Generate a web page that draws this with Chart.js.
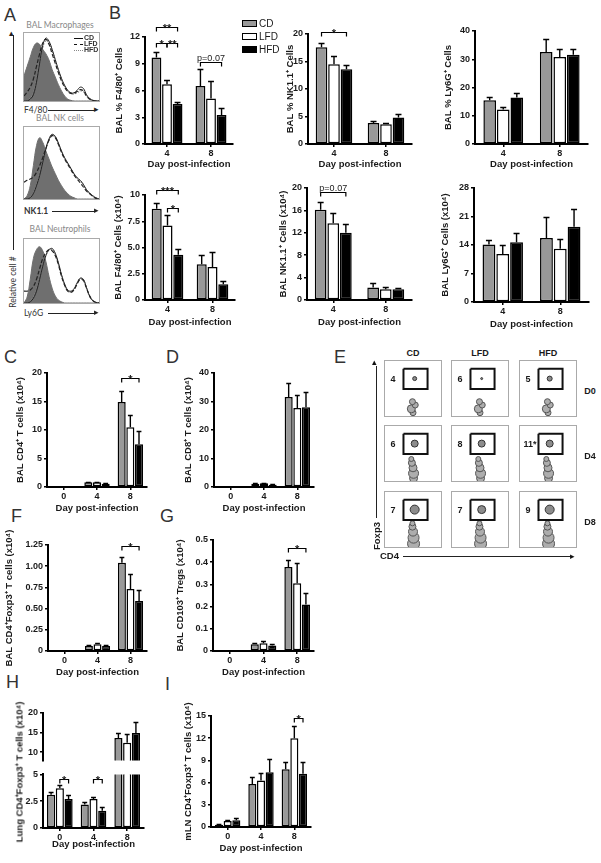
<!DOCTYPE html>
<html>
<head>
<meta charset="utf-8">
<script src="https://cdn.jsdelivr.net/npm/chart.js@4.4.0/dist/chart.umd.min.js"></script>
<style>
  body { margin: 0; width: 601px; height: 863px; position: relative; overflow: hidden; background: #fff;
         font-family: 'Liberation Sans', Arial, sans-serif; color: #1a1a1a; }
  canvas { position: absolute; }
  .t { position: absolute; white-space: nowrap; }
  .letter { font-size: 18px; color: #333; }
  .rot { transform: translate(-50%, -50%) rotate(-90deg); }
  .ctr { transform: translate(-50%, -50%); }
  .hbox { position: absolute; border: 1px solid #aaa; }
  .hbox canvas { position: static; display: block; }
  .flow { position: absolute; border: 1px solid #aaa; width: 56px; height: 55px; }
  .flow canvas { position: static; display: block; }
  .line { position: absolute; background: #222; }
  .sw { position: absolute; width: 13px; height: 5px; border: 1.5px solid #000; }
</style>
</head>
<body>
<script>
const groups = ['CD', 'LFD', 'HFD'];
const fills = ['#999999', '#ffffff', '#000000'];
const days48 = ['4', '8'];
const days048 = ['0', '4', '8'];

// rows: CD, LFD, HFD ; columns: days
const f480Pct = [[9.7, 6.5], [6.7, 5.1], [4.5, 3.25]];
const f480PctErr = [[0.6, 1.9], [0.5, 2.0], [0.2, 0.75]];
const nkPct = [[17.6, 3.8], [14.5, 3.6], [13.6, 4.8]];
const nkPctErr = [[0.7, 0.4], [1.5, 0.3], [0.8, 0.6]];
const ly6gPct = [[15.5, 32.6], [12.2, 30.8], [16.5, 31.6]];
const ly6gPctErr = [[1.2, 4.7], [1.0, 3.0], [1.4, 2.2]];

const f480Num = [[8.7, 3.4], [7.1, 3.15], [4.3, 1.5]];
const f480NumErr = [[0.5, 0.9], [1.0, 1.45], [0.6, 0.3]];
const nkNum = [[16.1, 2.25], [13.7, 1.9], [12.0, 1.9]];
const nkNumErr = [[1.4, 0.7], [1.8, 0.35], [1.6, 0.3]];
const ly6gNum = [[14.1, 15.7], [11.8, 13.1], [14.7, 18.5]];
const ly6gNumErr = [[1.2, 5.1], [2.3, 2.4], [2.2, 4.4]];

const cd4 = [[0.15, 0.85, 14.9], [0.05, 0.85, 10.5], [0.05, 0.55, 7.5]];
const cd4Err = [[0, 0.1, 1.9], [0, 0.1, 2.1], [0, 0.1, 2.3]];
const cd8 = [[0.05, 1.1, 31.6], [0.05, 1.3, 27.7], [0.05, 0.8, 28.0]];
const cd8Err = [[0, 0.2, 5.0], [0, 0.2, 4.6], [0, 0.1, 5.3]];
const treg = [[0.01, 0.06, 1.04], [0.01, 0.08, 0.73], [0.005, 0.06, 0.59]];
const tregErr = [[0, 0.01, 0.07], [0, 0.01, 0.18], [0, 0.01, 0.13]];
const cd103 = [[0.005, 0.03, 0.378], [0.005, 0.035, 0.305], [0.005, 0.025, 0.21]];
const cd103Err = [[0, 0.005, 0.03], [0, 0.008, 0.09], [0, 0.005, 0.05]];
const lungTreg = [[3.1, 2.2, 13.6], [3.7, 2.7, 12.4], [2.7, 1.6, 14.9]];
const lungTregErr = [[0.3, 0.2, 1.3], [0.3, 0.2, 2.2], [0.4, 0.4, 2.7]];
const mlnTreg = [[0.3, 5.8, 7.8], [0.8, 6.3, 12.0], [0.9, 7.4, 7.2]];
const mlnTregErr = [[0.05, 1.0, 1.0], [0.2, 1.0, 1.6], [0.3, 1.8, 1.6]];

// panel A histograms (relative cell #, 25 bins)
const macIso = [40, 55, 70, 85, 92, 90, 82, 75, 65, 50, 38, 26, 16, 8, 3, 1, 0, 0, 0, 0, 0, 0, 0, 0, 0];
const macCD  = [0, 0, 3, 10, 30, 60, 88, 100, 95, 82, 66, 50, 36, 25, 17, 13, 13, 17, 22, 20, 10, 4, 1, 0, 0];
const macLFD = [8, 14, 22, 35, 55, 75, 92, 98, 90, 75, 60, 45, 32, 22, 15, 12, 12, 15, 18, 16, 8, 3, 1, 0, 0];
const macHFD = [0, 0, 4, 12, 32, 62, 85, 96, 92, 80, 64, 48, 34, 23, 16, 12, 11, 13, 16, 15, 8, 3, 1, 0, 0];
const nkIso  = [0, 5, 20, 50, 80, 92, 85, 72, 60, 48, 38, 28, 20, 13, 8, 4, 2, 0, 0, 0, 0, 0, 0, 0, 0];
const nkCD   = [0, 0, 2, 8, 20, 35, 55, 75, 90, 97, 94, 84, 72, 62, 54, 46, 38, 32, 28, 22, 14, 9, 5, 2, 0];
const nkLFD  = [25, 28, 30, 33, 40, 50, 62, 76, 88, 95, 92, 82, 70, 60, 52, 44, 36, 30, 24, 18, 12, 8, 4, 1, 0];
const nkHFD  = [0, 0, 3, 9, 22, 37, 57, 76, 89, 96, 93, 83, 71, 61, 53, 45, 37, 31, 27, 21, 13, 8, 4, 1, 0];
const neuIso = [0, 10, 40, 75, 90, 95, 88, 70, 45, 25, 12, 5, 2, 0, 0, 0, 0, 0, 0, 0, 0, 0, 0, 0, 0];
const neuCD  = [0, 0, 2, 8, 20, 40, 62, 80, 90, 92, 84, 68, 48, 32, 22, 20, 24, 34, 42, 40, 26, 12, 4, 1, 0];
const neuLFD = [20, 20, 22, 28, 40, 58, 75, 85, 90, 88, 80, 65, 45, 30, 20, 18, 22, 32, 40, 38, 25, 12, 4, 1, 0];
const neuHFD = [0, 0, 3, 10, 22, 42, 63, 80, 89, 90, 82, 66, 47, 31, 21, 19, 23, 33, 41, 39, 25, 11, 4, 1, 0];

// panel E: gate frequencies (rows D0, D4, D8; columns CD, LFD, HFD)
const flowRows = ['D0', 'D4', 'D8'];
const flowPct = [[4, 6, 5], [6, 8, 11], [7, 7, 9]];
const flowStar = [[false, false, false], [false, false, true], [false, false, false]];
const gateX = [33, 76];
const gateY = [49, 86];
const gateBlobR = [[2, 1, 2.5], [3.5, 3.5, 3.5], [4.5, 4, 4.5]];
const bodyD0 = [{x: 50, y: 6, r: 3}, {x: 47, y: 13, r: 4}, {x: 54, y: 20, r: 3}, {x: 49, y: 26, r: 3}];
const bodyD4 = [{x: 51, y: 5, r: 4}, {x: 51, y: 14, r: 5}, {x: 50, y: 24, r: 4}, {x: 48, y: 33, r: 3.5}, {x: 47, y: 40, r: 2.5}];
const bodyD8 = [{x: 51, y: 6, r: 6}, {x: 51, y: 17, r: 5.5}, {x: 50, y: 28, r: 4.5}, {x: 49, y: 37, r: 3.5}, {x: 49, y: 43, r: 2.5}];
const flowBodies = [bodyD0, bodyD4, bodyD8];

Chart.defaults.font.family = "'Liberation Sans', Arial, sans-serif";
Chart.defaults.color = '#1a1a1a';
Chart.defaults.animation = false;

const tickFont = { size: 9, weight: 'bold' };

function txt(x, y, s, css, cls) {
  const d = document.createElement('div');
  d.className = 't ' + (cls || '');
  d.textContent = s;
  d.style.left = x + 'px';
  d.style.top = y + 'px';
  if (css) d.style.cssText += css;
  document.body.appendChild(d);
  return d;
}
function line(x, y, w, h) {
  const d = document.createElement('div');
  d.className = 'line';
  d.style.cssText += `left:${x}px;top:${y}px;width:${w}px;height:${h}px`;
  document.body.appendChild(d);
}

// upward error bars
const errorBars = {
  id: 'errorBars',
  afterDatasetsDraw(chart) {
    const { ctx, chartArea: a, scales: { y } } = chart;
    ctx.save();
    ctx.beginPath();
    ctx.rect(a.left, a.top - 4, a.right - a.left, a.bottom - a.top + 4);
    ctx.clip();
    ctx.strokeStyle = '#000';
    ctx.lineWidth = 1.4;
    chart.data.datasets.forEach((ds, i) => {
      chart.getDatasetMeta(i).data.forEach((bar, j) => {
        const e = ds.errs[j];
        const v = ds.data[j];
        if (!e || v + e < y.min) return;
        const y0 = y.getPixelForValue(Math.max(v, y.min));
        const y1 = Math.round(y.getPixelForValue(v + e)) + 0.5;
        const cap = Math.min(bar.width * 0.3, 3);
        ctx.beginPath();
        ctx.moveTo(bar.x, y0); ctx.lineTo(bar.x, y1);
        ctx.moveTo(bar.x - cap, y1); ctx.lineTo(bar.x + cap, y1);
        ctx.stroke();
      });
    });
    ctx.restore();
  }
};

// significance brackets
const brackets = {
  id: 'brackets',
  afterDraw(chart, args, opts) {
    const items = opts.items || [];
    const { ctx, scales: { y } } = chart;
    items.forEach(s => {
      const xa = chart.getDatasetMeta(s.a).data[s.cat].x;
      const xb = chart.getDatasetMeta(s.b).data[s.cat].x;
      const yy = Math.round(y.getPixelForValue(s.v)) + 0.5;
      ctx.save();
      ctx.strokeStyle = '#000';
      ctx.lineWidth = 1.2;
      ctx.beginPath();
      ctx.moveTo(xa, yy + 4); ctx.lineTo(xa, yy); ctx.lineTo(xb, yy); ctx.lineTo(xb, yy + 4);
      ctx.stroke();
      ctx.fillStyle = '#1a1a1a';
      ctx.textAlign = 'center';
      if (s.text[0] === 'p') {
        ctx.font = "9px 'Liberation Sans', Arial";
        ctx.fillText(s.text, (xa + xb) / 2, yy - 2);
      } else {
        ctx.font = "bold 11px 'Liberation Sans', Arial";
        ctx.fillText(s.text, (xa + xb) / 2, yy + 4);
      }
      ctx.restore();
    });
  }
};

function barPanel(o) {
  const padTop = o.padTop ?? 26, padRight = 4;
  const xH = o.hideX ? 0 : (o.xH ?? 27);
  const left = o.titleX - 6;
  const w = o.right - left + padRight;
  const h = padTop + (o.bottom - o.top) + xH;
  const cv = document.createElement('canvas');
  cv.width = w; cv.height = h;
  cv.style.left = left + 'px';
  cv.style.top = (o.top - padTop) + 'px';
  document.body.appendChild(cv);
  const three = o.labels.length === 3;
  new Chart(cv, {
    type: 'bar',
    data: {
      labels: o.labels,
      datasets: groups.map((g, i) => ({
        label: g,
        data: o.means[i],
        errs: o.errs[i],
        backgroundColor: fills[i],
        borderColor: '#000',
        borderWidth: 1.5,
        borderSkipped: false,
        categoryPercentage: three ? 0.78 : 0.72,
        barPercentage: 0.93
      }))
    },
    options: {
      responsive: false,
      maintainAspectRatio: false,
      animation: false,
      events: [],
      layout: { padding: { top: padTop, right: padRight, left: 0, bottom: 0 } },
      plugins: { legend: { display: false }, tooltip: { enabled: false }, brackets: { items: o.sig || [] } },
      scales: {
        x: {
          display: !o.hideX,
          afterFit: s => { s.height = xH; },
          ticks: { font: tickFont, padding: 1, color: '#1a1a1a' },
          grid: { drawOnChartArea: false, offset: false, tickLength: 3, color: '#000', lineWidth: 1.5 },
          border: { color: '#000', width: 2 },
          title: { display: true, text: 'Day post-infection', font: { size: 9.5, weight: 'bold' }, padding: 0, color: '#1a1a1a' }
        },
        y: {
          min: o.min ?? 0,
          max: o.max,
          afterFit: s => { s.width = o.ax - left; },
          ticks: { stepSize: o.step, font: tickFont, padding: 2, color: '#1a1a1a', includeBounds: false,
                   callback: o.fmt || (v => String(v)) },
          grid: { drawOnChartArea: false, tickLength: 3, color: '#000', lineWidth: 1.5 },
          border: { color: '#000', width: 2 },
          title: { display: !!o.title, text: o.title, font: { size: 9.5, weight: 'bold' }, padding: 0, color: '#1a1a1a' }
        }
      }
    },
    plugins: [errorBars, brackets]
  });
}

function histPanel(left, top, w, h, iso, cd, lfd, hfd) {
  const box = document.createElement('div');
  box.className = 'hbox';
  box.style.left = left + 'px';
  box.style.top = top + 'px';
  const cv = document.createElement('canvas');
  cv.width = w; cv.height = h;
  box.appendChild(cv);
  document.body.appendChild(box);
  const labels = iso.map((v, i) => i);
  new Chart(cv, {
    type: 'line',
    data: {
      labels,
      datasets: [
        { data: cd, borderColor: '#222', borderWidth: 1, pointRadius: 0, tension: 0.4, fill: false },
        { data: lfd, borderColor: '#222', borderWidth: 1.2, borderDash: [4, 2], pointRadius: 0, tension: 0.4, fill: false },
        { data: hfd, borderColor: '#8a8a8a', borderWidth: 1.2, borderDash: [1.5, 1.5], pointRadius: 0, tension: 0.4, fill: false },
        { data: iso, borderColor: '#6f6f6f', backgroundColor: '#6f6f6f', borderWidth: 1, pointRadius: 0, tension: 0.4, fill: 'origin' }
      ]
    },
    options: {
      responsive: false, animation: false, events: [],
      layout: { padding: 0, autoPadding: false },
      plugins: { legend: { display: false }, tooltip: { enabled: false } },
      scales: { x: { display: false }, y: { display: false, min: 0, max: 108 } }
    }
  });
}

function flowPlot(left, top, row, col) {
  const box = document.createElement('div');
  box.className = 'flow';
  box.style.left = left + 'px';
  box.style.top = top + 'px';
  const cv = document.createElement('canvas');
  cv.width = 56; cv.height = 55;
  box.appendChild(cv);
  document.body.appendChild(box);
  const gate = [
    {x: gateX[0], y: gateY[1]}, {x: gateX[1], y: gateY[1]},
    {x: gateX[1], y: gateY[0]}, {x: gateX[0], y: gateY[0]}, {x: gateX[0], y: gateY[1]}
  ];
  new Chart(cv, {
    type: 'scatter',
    data: {
      datasets: [
        { type: 'line', data: gate, borderColor: '#111', borderWidth: 2, pointRadius: 0, fill: false, tension: 0 },
        { type: 'bubble', data: [{x: 53, y: 68, r: gateBlobR[row][col]}], backgroundColor: '#8c8c8c', borderColor: '#333', borderWidth: 1 },
        { type: 'bubble', data: flowBodies[row], backgroundColor: '#adadad', borderColor: '#555', borderWidth: 1 }
      ]
    },
    options: {
      responsive: false, animation: false, events: [],
      layout: { padding: 0, autoPadding: false },
      plugins: { legend: { display: false }, tooltip: { enabled: false } },
      scales: { x: { type: 'linear', min: 0, max: 100, display: false }, y: { min: 0, max: 100, display: false } }
    }
  });
  const n = flowPct[row][col] + (flowStar[row][col] ? '*' : '');
  txt(left + 9 + (n.length > 1 ? 2 : 0), top + 19, n, 'font-size:9px;font-weight:bold;', 'ctr');
}

// ---------- panel letters ----------
txt(4, 5, 'A', '', 'letter');
txt(109, 3, 'B', '', 'letter');
txt(4, 347, 'C', '', 'letter');
txt(166, 347, 'D', '', 'letter');
txt(334, 347, 'E', '', 'letter');
txt(11, 506, 'F', '', 'letter');
txt(160, 506, 'G', '', 'letter');
txt(6, 672, 'H', '', 'letter');
txt(165, 674, 'I', '', 'letter');

// ---------- panel A ----------
const lato = "font-family:Lato,'Open Sans',sans-serif;font-size:8.5px;";
txt(60, 25, 'BAL Macrophages', lato + 'color:#888;', 'ctr');
histPanel(23, 32, 75, 68, macIso, macCD, macLFD, macHFD);
txt(24, 105, 'F4/80', lato + 'color:#333;');
line(48, 110, 48, 1);
txt(60, 118, 'BAL NK cells', lato + 'color:#888;', 'ctr');
histPanel(23, 126, 75, 72, nkIso, nkCD, nkLFD, nkHFD);
txt(24, 206, 'NK1.1', lato + 'color:#333;font-weight:bold;');
line(52, 211, 44, 1);
txt(60, 229, 'BAL Neutrophils', lato + 'color:#888;', 'ctr');
histPanel(23, 238, 75, 64, neuIso, neuCD, neuLFD, neuHFD);
txt(24, 308, 'Ly6G', lato + 'color:#333;');
line(48, 313, 48, 1);
txt(13, 282, 'Relative cell #', lato + 'color:#333;', 'rot');
line(13, 35, 1, 215);
[104, 205, 307].forEach(y => txt(94, y, '▸', 'font-size:9px;color:#222;'));
txt(9, 28, '▴', 'font-size:9px;color:#222;');
// histogram legend
[['CD', 'solid #111'], ['LFD', 'dashed #111'], ['HFD', 'dotted #888']].forEach((l, i) => {
  const d = document.createElement('div');
  d.style.cssText = `position:absolute;left:74px;top:${38 + i * 6}px;width:9px;border-top:1.5px ${l[1]};`;
  document.body.appendChild(d);
  txt(84, 34 + i * 6, l[0], "font-size:7px;font-weight:bold;color:#333;line-height:8px;");
});

// ---------- panel B ----------
barPanel({ titleX: 120, ax: 145, right: 233, top: 37, bottom: 144, xH: 26, max: 12, step: 3, labels: days48,
  means: f480Pct, errs: f480PctErr, title: 'BAL % F4/80⁺ Cells',
  sig: [{cat: 0, a: 0, b: 2, v: 13.1, text: '**'}, {cat: 0, a: 0, b: 1, v: 11.3, text: '*'},
        {cat: 0, a: 1, b: 2, v: 11.3, text: '**'}, {cat: 1, a: 0, b: 2, v: 9.2, text: 'p=0.07'}] });
barPanel({ titleX: 291, ax: 308, right: 412, top: 34, bottom: 144, xH: 26, max: 20, step: 5, labels: days48,
  means: nkPct, errs: nkPctErr, title: 'BAL % NK1.1⁺ Cells',
  sig: [{cat: 0, a: 0, b: 2, v: 20.4, text: '*'}] });
barPanel({ titleX: 449, ax: 475, right: 588, top: 31, bottom: 144, xH: 26, max: 40, step: 10, labels: days48,
  means: ly6gPct, errs: ly6gPctErr, title: 'BAL % Ly6G⁺ Cells' });
barPanel({ titleX: 119, ax: 145, right: 235, top: 195, bottom: 300, xH: 28, max: 10, step: 2.5, labels: days48,
  means: f480Num, errs: f480NumErr, title: 'BAL F4/80⁺ Cells (x10⁴)',
  fmt: v => (v === 0 || v === 10) ? String(v) : v.toFixed(1),
  sig: [{cat: 0, a: 0, b: 2, v: 10.5, text: '***'}, {cat: 0, a: 1, b: 2, v: 8.8, text: '*'}] });
barPanel({ titleX: 284, ax: 307, right: 412, top: 188, bottom: 300, xH: 28, max: 20, step: 4, labels: days48,
  means: nkNum, errs: nkNumErr, title: 'BAL NK1.1⁺ Cells (x10⁴)',
  sig: [{cat: 0, a: 0, b: 2, v: 19.3, text: 'p=0.07'}] });
barPanel({ titleX: 446, ax: 474, right: 589, top: 188, bottom: 302, xH: 28, max: 28, step: 7, labels: days48,
  means: ly6gNum, errs: ly6gNumErr, title: 'BAL Ly6G⁺ Cells (x10⁴)' });

// legend
groups.forEach((g, i) => {
  const d = document.createElement('div');
  d.className = 'sw';
  d.style.left = '242px';
  d.style.top = (20 + i * 13) + 'px';
  d.style.background = fills[i];
  document.body.appendChild(d);
  txt(259, 18 + i * 13, g, 'font-size:10px;line-height:12px;');
});

// ---------- panels C, D ----------
barPanel({ titleX: 21, ax: 47, right: 147, top: 373, bottom: 487, max: 20, step: 5, labels: days048,
  means: cd4, errs: cd4Err, title: 'BAL CD4⁺ T cells (x10⁴)',
  sig: [{cat: 2, a: 0, b: 2, v: 19.1, text: '*'}] });
barPanel({ titleX: 189, ax: 214, right: 314, top: 373, bottom: 487, max: 40, step: 10, labels: days048,
  means: cd8, errs: cd8Err, title: 'BAL CD8⁺ T cells (x10⁴)' });

// ---------- panel E ----------
const flowCols = [384, 451, 519];
const flowTops = [360, 425, 491];
groups.forEach((g, c) => txt(flowCols[c] + 29, 353, g, 'font-size:9px;font-weight:bold;', 'ctr'));
flowRows.forEach((r, ri) => {
  txt(590, flowTops[ri] + 31, r, 'font-size:9px;font-weight:bold;', 'ctr');
  flowCols.forEach((cx, ci) => flowPlot(cx, flowTops[ri], ri, ci));
});
line(375.5, 366, 1.5, 152);
txt(374, 362, '▴', 'font-size:9px;color:#111;', 'ctr');
txt(376, 536, 'Foxp3', 'font-size:9.5px;font-weight:bold;', 'rot');
txt(380, 550, 'CD4', 'font-size:9.5px;font-weight:bold;');
line(403, 555.5, 168, 1.5);
txt(572, 556, '▸', 'font-size:9px;color:#111;', 'ctr');

// ---------- panels F, G ----------
barPanel({ titleX: 10, ax: 48, right: 147, top: 545, bottom: 651, max: 1.25, step: 0.25, labels: days048,
  means: treg, errs: tregErr, title: 'BAL CD4⁺Foxp3⁺ T cells (x10⁴)',
  fmt: v => v === 0 ? '0' : v.toFixed(2),
  sig: [{cat: 2, a: 0, b: 2, v: 1.24, text: '*'}] });
barPanel({ titleX: 181, ax: 213, right: 314, top: 540, bottom: 651, max: 0.5, step: 0.1, labels: days048,
  means: cd103, errs: cd103Err, title: 'BAL CD103⁺ Tregs (x10⁴)',
  fmt: v => v === 0 ? '0' : v.toFixed(1),
  sig: [{cat: 2, a: 0, b: 2, v: 0.464, text: '*'}] });

// ---------- panel H (broken axis) ----------
barPanel({ titleX: 19, ax: 43, right: 144, top: 713, bottom: 768, padTop: 8, hideX: true, min: 7.8, max: 20, step: 5,
  labels: days048, means: lungTreg, errs: lungTregErr });
barPanel({ titleX: 19, ax: 43, right: 144, top: 773, bottom: 828, padTop: 6, xH: 22, max: 5, step: 2.5,
  labels: days048, means: lungTreg, errs: lungTregErr,
  fmt: v => v === 2.5 ? '2.5' : String(v),
  sig: [{cat: 0, a: 1, b: 2, v: 4.6, text: '*'}, {cat: 1, a: 1, b: 2, v: 4.6, text: '*'}] });
txt(19, 772, 'Lung CD4⁺Foxp3⁺ T cells (x10⁴)', 'font-size:9.5px;font-weight:bold;', 'rot');

// ---------- panel I ----------
barPanel({ titleX: 189, ax: 211, right: 311, top: 716, bottom: 827, max: 15, step: 3, labels: days048,
  means: mlnTreg, errs: mlnTregErr, title: 'mLN CD4⁺Foxp3⁺ T cells (x10⁴)',
  sig: [{cat: 2, a: 1, b: 2, v: 14.7, text: '*'}] });
</script>
</body>
</html>
